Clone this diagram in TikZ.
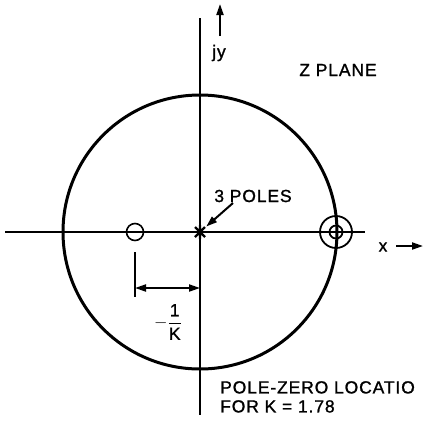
\documentclass[tikz,border=0pt]{standalone}
\usepackage{fontspec}
\setmainfont{Liberation Sans}[LetterSpace=5,FakeBold=1.2]
\usetikzlibrary{arrows.meta}
\tikzset{
  lbl/.style={font=\fontsize{17.5}{19}\selectfont, inner sep=0pt},
  axe/.style={line width=2pt},
  fl/.style={line width=2pt, -{Triangle[length=11pt,width=7pt]}}
}
\begin{document}
\begin{tikzpicture}[x=1pt,y=-1pt]
	\useasboundingbox (0,0) rectangle (425,421);
	% axes
	\coordinate (O) at (200,232);
	\coordinate (xg) at (5,232);
	\coordinate (xd) at (365,232);
	\coordinate (yh) at (200,18);
	\coordinate (yb) at (200,415);
	\draw[axe] (xg) -- (xd);
	\draw[axe] (yh) -- (yb);
	\draw[line width=3pt] (O) circle[radius=137];
	
	% labels of the axes
	\coordinate (jyb) at (220,36);
	\coordinate (jyh) at (220,4);
	\draw[fl] (jyb) -- (jyh);
	\node[lbl] (jy) at (219,53) {jy};
	\node[lbl] (xl) at (383,247) {x};
	\coordinate (xa) at (396,246);
	\coordinate (xb) at (423,246);
	\draw[fl] (xa) -- (xb);
	\node[lbl] (zp) at (338,70) {Z PLANE};
	
	% poles and zeros
	\node[draw, circle, line width=1.6pt, minimum size=17pt, inner sep=0pt] (zero) at (135,232) {};
	\draw[line width=2.2pt] (195,227) -- (205,237) (195,237) -- (205,227) (200,225) -- (200,239);
	\node[inner sep=0pt, minimum size=12pt] (pole) at (O) {};
	\node[draw, circle, line width=1.8pt, minimum size=32pt, inner sep=0pt] (ring) at (336,232) {};
	\node[draw, circle, line width=1.8pt, minimum size=13pt, inner sep=0pt] (ringi) at (ring) {};
	\node[lbl] (poles) at (253,196) {3 POLES};
	\coordinate (pa) at (233,203);
	\draw[fl] (pa) -- (pole);
	
	% distance -1/K
	\coordinate (ta) at (135,252);
	\coordinate (tb) at (135,297);
	\draw[axe] (ta) -- (tb);
	\coordinate (da) at (135,288);
	\coordinate (db) at (200,288);
	\draw[line width=2pt, {Triangle[length=11pt,width=7pt]}-{Triangle[length=11pt,width=7pt]}] (da) -- (db);
	\node[lbl] (k) at (168,322) {$-\displaystyle\frac{\mbox{1}}{\mbox{K}}$};
	
	\node[lbl, anchor=north west, align=left] (legende) at (220,381) {POLE-ZERO LOCATIO\\FOR K = 1.78};
\end{tikzpicture}
\end{document}
